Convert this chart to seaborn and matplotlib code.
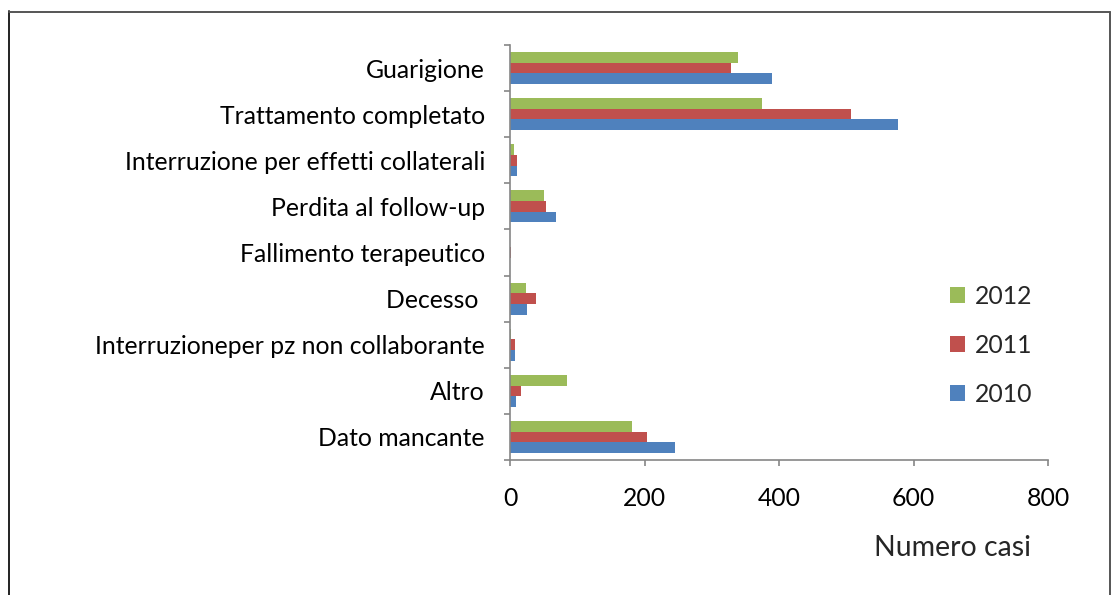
import numpy as np
import pandas as pd
import matplotlib
matplotlib.use("Agg")
import matplotlib.pyplot as plt
from matplotlib.lines import Line2D
import seaborn as sns

# Esiti del trattamento per anno
categorie = [
    "Guarigione",
    "Trattamento completato",
    "Interruzione per effetti collaterali",
    "Perdita al follow-up",
    "Fallimento terapeutico",
    "Decesso ",
    "Interruzioneper pz non collaborante",
    "Altro",
    "Dato mancante",
]
anni = ["2012", "2011", "2010"]
casi_2012 = [339, 375, 6, 50, 0, 24, 1, 85, 182]
casi_2011 = [329, 507, 11, 53, 2, 38, 8, 17, 204]
casi_2010 = [390, 577, 11, 69, 0, 25, 7, 9, 245]
x_ticks = [0, 200, 400, 600, 800]

colori = {"2012": "#9BBB59", "2011": "#C0504D", "2010": "#4F81BD"}

df = pd.DataFrame({
    "Esito": categorie * 3,
    "Anno": ["2012"] * 9 + ["2011"] * 9 + ["2010"] * 9,
    "Casi": casi_2012 + casi_2011 + casi_2010,
})

sns.set_style("white")
plt.rcParams["font.family"] = ["Lato", "DejaVu Sans"]

FS = 17.8
W, H = 1118, 595
fig = plt.figure(figsize=(W / 100, H / 100), dpi=100)
ax = fig.add_axes([510 / W, 1 - 460 / H, (1048 - 510) / W, (460 - 45) / H])

sns.barplot(data=df, y="Esito", x="Casi", hue="Anno", order=categorie,
            hue_order=anni, palette=colori, orient="h", width=0.69,
            saturation=1, linewidth=0, ax=ax, legend=True)

ax.set_xlim(0, 800)
ax.set_ylim(8.5, -0.5)
ax.set_xticks(x_ticks)
ax.set_xticklabels([str(v) for v in x_ticks], fontsize=FS)
ax.set_yticks(np.arange(len(categorie)))
ax.set_yticklabels(categorie, fontsize=FS)
ax.set_yticks(np.arange(-0.5, len(categorie), 1.0), minor=True)
ax.tick_params(axis="y", which="major", length=0, pad=18, colors="black")
ax.tick_params(axis="y", which="minor", length=4.3, width=1.2, color="#868686", left=True)
ax.tick_params(axis="x", which="major", length=4.3, width=1.2, color="#868686",
               pad=15.5, bottom=True, labelcolor="black")
ax.set_xlabel("")
ax.set_ylabel("")
for side in ["top", "right"]:
    ax.spines[side].set_visible(False)
for side in ["left", "bottom"]:
    ax.spines[side].set_color("#868686")
    ax.spines[side].set_linewidth(1.2)

handles, labels = ax.get_legend_handles_labels()
ax.legend(handles, labels, loc="upper left", bbox_to_anchor=(950 / W, 1 - 285 / H),
          bbox_transform=fig.transFigure, frameon=False, fontsize=FS,
          handlelength=0.6, handleheight=0.6, handletextpad=0.4,
          labelspacing=1.05, borderaxespad=0, borderpad=0)

fig.text(953 / W, 1 - 548 / H, "Numero casi", fontsize=20.5, ha="center", va="center")

# cornice del grafico
fig.add_artist(Line2D([8.5 / W, 8.5 / W], [0, 1 - 11 / H], transform=fig.transFigure,
                      color="#222222", lw=1.4))
fig.add_artist(Line2D([8.5 / W, 1110 / W], [1 - 11.5 / H, 1 - 11.5 / H],
                      transform=fig.transFigure, color="#555555", lw=1.4))
fig.add_artist(Line2D([1110 / W, 1110 / W], [0, 1 - 11.5 / H], transform=fig.transFigure,
                      color="#555555", lw=1.4))

fig.savefig("out.png", dpi=100)
